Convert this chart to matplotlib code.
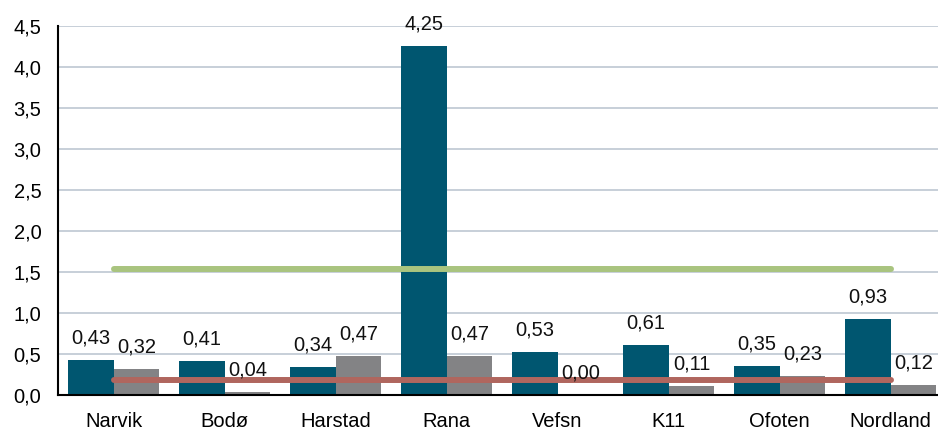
import numpy as np
import matplotlib.pyplot as plt

plt.rcParams['font.family'] = ['Liberation Sans', 'DejaVu Sans']

# Data
categories = ['Narvik', 'Bodø', 'Harstad', 'Rana', 'Vefsn', 'K11', 'Ofoten', 'Nordland']
series_a = [0.43, 0.41, 0.34, 4.25, 0.53, 0.61, 0.35, 0.93]
series_b = [0.32, 0.04, 0.47, 0.47, 0.00, 0.11, 0.23, 0.12]
level_green = [1.54] * len(categories)
level_red = [0.18] * len(categories)
yticks = [0.0, 0.5, 1.0, 1.5, 2.0, 2.5, 3.0, 3.5, 4.0, 4.5]

teal = '#005670'
grey = '#838385'
green = '#A9C47F'
red = '#B0665E'

fig = plt.figure(figsize=(9.38, 4.30), dpi=100)
# axes runs a little past the right edge of the figure, like the original
ax = fig.add_axes([58 / 938, 1 - 395 / 430, 888 / 938, (395 - 26) / 430])

x = np.arange(len(categories))
w = 0.414
bars_a = ax.bar(x - w / 2, series_a, w, color=teal, zorder=2)
bars_b = ax.bar(x + w / 2, series_b, w, color=grey, zorder=2)

ax.plot(x, level_green, color=green, lw=4.3, solid_capstyle='round', zorder=3)
ax.plot(x, level_red, color=red, lw=4.3, solid_capstyle='round', zorder=3)

for bars in (bars_a, bars_b):
    for b in bars:
        h = b.get_height()
        ax.annotate(f'{h:.2f}'.replace('.', ','), (b.get_x() + b.get_width() / 2, h),
                    xytext=(0, 9), textcoords='offset points',
                    ha='center', va='bottom', fontsize=14.5, color='#111111')

ax.set_xlim(-0.5, len(categories) - 0.5)
ax.set_ylim(0, 4.5)
ax.set_yticks(yticks)
ax.set_yticklabels([f'{t:.1f}'.replace('.', ',') for t in yticks], fontsize=14.5)
ax.set_xticks(x)
ax.set_xticklabels(categories, fontsize=14.5)
ax.tick_params(axis='x', length=0, pad=12)
ax.tick_params(axis='y', length=0, pad=12)

ax.grid(axis='y', color='#C3CCD5', lw=1.3, zorder=0)
ax.set_axisbelow(True)
for s in ('top', 'right'):
    ax.spines[s].set_visible(False)
ax.spines['left'].set_linewidth(1.5)
ax.spines['bottom'].set_linewidth(1.5)
ax.spines['left'].set_zorder(4)
ax.spines['bottom'].set_zorder(4)

fig.savefig('out.png', dpi=100)
